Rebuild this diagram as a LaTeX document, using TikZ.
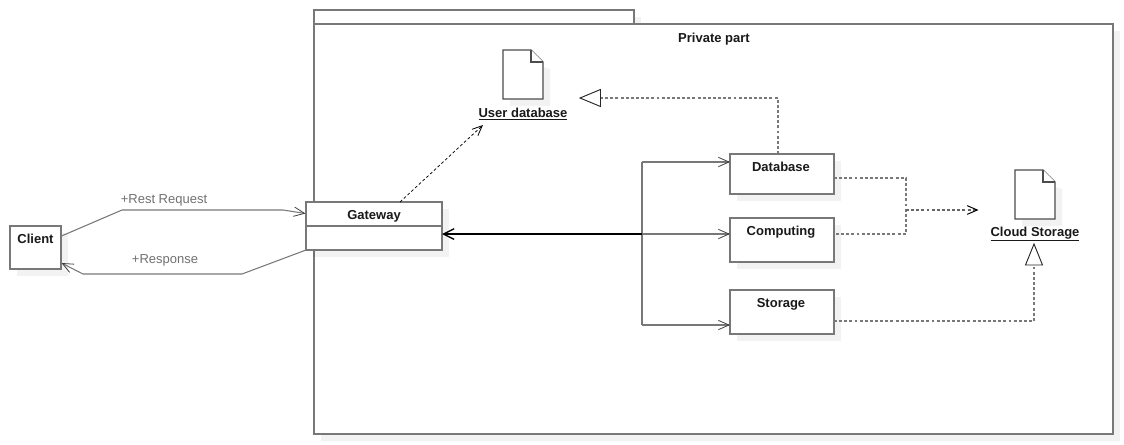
\documentclass[tikz,border=0pt]{standalone}
\usepackage{fontspec}
\setmainfont{Liberation Sans}
\usetikzlibrary{shadows,arrows.meta,calc}
\definecolor{linegray}{HTML}{787878}
\definecolor{labelgray}{HTML}{707070}
\tikzset{
  x=0.75pt,y=-0.75pt,
  every node/.style={font=\fontsize{9.75pt}{11pt}\selectfont,inner sep=0pt,outer sep=0pt},
  shade box/.style={general shadow={fill=black,fill opacity=0.05,draw opacity=0,shadow xshift=5.25pt,shadow yshift=-5.25pt}},
  umlbox/.style={draw=linegray,fill=white,line width=0.8pt,rectangle,shade box},
  title/.style={font=\fontsize{9.75pt}{11pt}\selectfont\bfseries,text=black!90,anchor=base},
  msg/.style={font=\fontsize{9.75pt}{11pt}\selectfont,text=labelgray,anchor=base},
  wire/.style={draw=linegray,line width=0.8pt,-{Straight Barb[length=8pt,width=7pt,line width=0.6pt,color=black!75]}},
  plain wire/.style={draw=linegray,line width=0.8pt},
  dash wire/.style={draw=linegray,line width=0.85pt,dash pattern=on 2.2pt off 1.65pt},
  dash arrow/.style={dash wire,draw=black!60,line width=0.85pt,-{Straight Barb[length=7.5pt,width=6.5pt,line width=0.75pt,color=black,sep=0pt]}},
  realize/.style={draw=black!85,fill=white,line width=0.7pt,line join=miter},
  docshape/.style={draw=black!70,fill=white,line width=0.85pt},
}
\begin{document}
\begin{tikzpicture}
\useasboundingbox (0,0) rectangle (1124,444);
% package
\node[umlbox,anchor=north west,minimum width=240pt,minimum height=10.5pt] (tab) at (314,10) {};
\node[umlbox,anchor=north west,minimum width=599.25pt,minimum height=307.5pt] (pkg) at (314,24) {};
\node[title] (pkgtitle) at (714,42) {Private part};
% user database document
\fill[black,opacity=0.05] (510,57) -- (550,69) -- (550,106) -- (510,106) -- cycle;
\coordinate (uda) at (503,50);
\draw[docshape] (uda) -- ++(28,0) -- ++(12,12) -- ++(0,37) -- ++(-40,0) -- cycle;
\draw[docshape] ($(uda)+(28,0)$) -- ++(0,12) -- ++(12,0);
\node[title] (udb) at (523,117) {\underline{User database}};
% cloud storage document
\fill[black,opacity=0.05] (1022,177) -- (1062,189) -- (1062,226) -- (1022,226) -- cycle;
\coordinate (cda) at (1015,170);
\draw[docshape] (cda) -- ++(28,0) -- ++(12,12) -- ++(0,37) -- ++(-40,0) -- cycle;
\draw[docshape] ($(cda)+(28,0)$) -- ++(0,12) -- ++(12,0);
\node[title] (cloud) at (1035,236) {\underline{Cloud Storage}};
% boxes
\node[umlbox,anchor=north west,minimum width=38.25pt,minimum height=32.25pt] (client) at (10,226) {};
\node[title] (clientlbl) at (35.5,243.5) {Client};
\node[umlbox,anchor=north west,minimum width=102pt,minimum height=36pt] (gateway) at (306,202) {};
\node[title] (gatewaylbl) at (374,219.5) {Gateway};
\coordinate (gwl) at (306,226);
\coordinate (gwr) at (442,226);
\draw[plain wire] (gwl) -- (gwr);
\node[umlbox,anchor=north west,minimum width=78pt,minimum height=30pt] (db) at (730,154) {};
\node[title] (dblbl) at (781,171.5) {Database};
\node[umlbox,anchor=north west,minimum width=78pt,minimum height=33pt] (comp) at (730,218) {};
\node[title] (complbl) at (781,235.5) {Computing};
\node[umlbox,anchor=north west,minimum width=78pt,minimum height=33pt] (stor) at (730,290) {};
\node[title] (storlbl) at (781,307.5) {Storage};
% client <-> gateway
\coordinate (rq1) at (122,210);
\coordinate (rq2) at (283,210);
\coordinate (rqa) at (305.5,213.5);
\coordinate (rqs) at (61.5,236);
\coordinate (rsa) at (61.5,263);
\coordinate (rs1) at (242,274);
\coordinate (rs2) at (83,274);
\coordinate (rss) at (306,250);
\draw[wire] (rqs) -- (rq1) -- (rq2) -- (rqa);
\draw[wire] (rss) -- (rs1) -- (rs2) -- (rsa);
\node[msg] (rqlbl) at (164,203.5) {+Rest Request};
\node[msg] (rslbl) at (165,263.5) {+Response};
% bus
\coordinate (bus) at (642,234);
\coordinate (bustop) at (642,162);
\coordinate (busbot) at (642,325);
\coordinate (gwin) at (442,234);
\draw[wire] (bus) -- (comp.west |- bus);
\draw[wire] (bustop) -- (db.west |- bustop);
\draw[wire] (busbot) -- (stor.west |- busbot);
\draw[plain wire] (bustop) -- (busbot);
\draw[line width=1.3pt,black,-{Straight Barb[length=8pt,width=8pt,line width=1pt]}] (bus) -- (gwin);
% dashed
\coordinate (gwtop) at (400,202);
\coordinate (udbtip) at (483,125);
\draw[dash wire,draw=black,line width=0.55pt,-{Straight Barb[length=7.5pt,width=6.5pt,line width=0.6pt,sep=0pt]}] (gwtop) -- (udbtip);
\coordinate (dbtop) at (778,154);
\coordinate (dbup) at (778,98);
\coordinate (tri1) at (600.5,98);
\draw[dash wire] (dbtop) -- (dbup) -- (tri1);
\draw[realize] (tri1) ++(0,-8.5) -- ++(0,17) -- (580,98) -- cycle;
\coordinate (dbr) at (834,178);
\coordinate (compr) at (834,234);
\coordinate (j1) at (906,178);
\coordinate (j2) at (906,234);
\coordinate (j3) at (906,210);
\coordinate (cloudin) at (978.5,210);
\draw[dash wire] (dbr) -- (j1) -- (j2) -- (compr);
\draw[dash arrow] (j3) -- (cloudin);
\coordinate (storr) at (834,321);
\coordinate (sj) at (1034,321);
\coordinate (tri2) at (1034,265);
\draw[dash wire] (storr) -- (sj) -- (tri2);
\draw[realize] (tri2) ++(-8.5,0) -- ++(17,0) -- (1034,244) -- cycle;
\end{tikzpicture}
\end{document}
